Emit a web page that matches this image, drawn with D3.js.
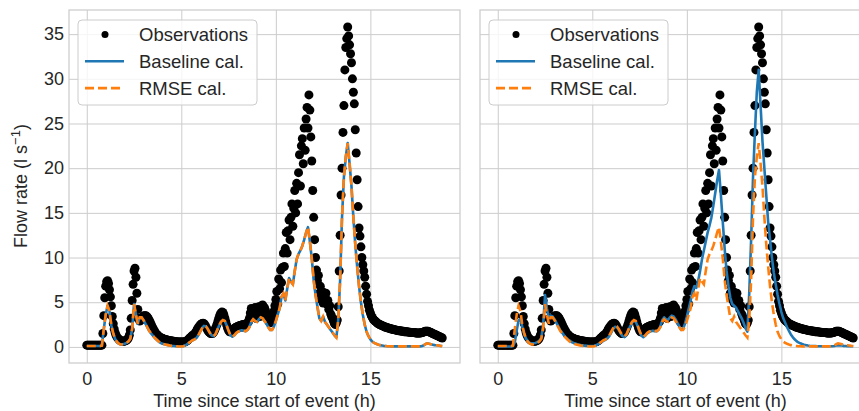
<!DOCTYPE html>
<html lang="en">
<head>
    <meta charset="UTF-8">
    <title>Flow rate: observations vs calibrations</title>
    <style>
        body { margin: 0; background: #fff; }
        svg { display: block; font-family: "Liberation Sans", Arial, sans-serif; }
        .tick text { fill: #262626; font-size: 18px; }
        .grid line { stroke: #cccccc; stroke-width: 1; }
        .label { fill: #262626; font-size: 18px; }
    </style>
</head>
<body>
    <script src="https://d3js.org/d3.v7.min.js"></script>
    <script>
        // observations every 0.05 h from t = 0 (one row per hour)
        const obsStep = 0.05;
        const obsFlow = [
            0.2,0.2,0.2,0.2,0.2,0.2,0.2,0.2,0.2,0.2,0.2,0.2,0.2,0.2,0.2,0.2,0.2,1.5,3.5,5.5,
            6.8,7.3,7.4,7.1,6.4,5.6,4.6,3.4,2.6,2.0,1.6,1.3,1.1,0.95,0.85,0.75,0.7,0.65,0.62,0.62,
            0.65,0.7,0.75,0.85,1.0,1.3,1.9,3.2,5.2,7.0,8.5,8.8,7.8,6.0,4.2,3.2,2.9,3.0,3.2,3.35,
            3.45,3.5,3.5,3.45,3.35,3.2,3.0,2.8,2.55,2.3,2.1,1.9,1.7,1.55,1.4,1.3,1.2,1.1,1.05,1.0,
            0.95,0.9,0.87,0.84,0.8,0.78,0.75,0.72,0.7,0.68,0.66,0.64,0.62,0.6,0.58,0.57,0.56,0.55,0.55,0.54,
            0.54,0.54,0.55,0.56,0.58,0.62,0.68,0.78,0.9,1.0,1.1,1.2,1.3,1.35,1.45,1.6,1.8,2.0,2.15,2.3,
            2.45,2.55,2.62,2.65,2.6,2.45,2.25,2.05,1.85,1.7,1.6,1.5,1.5,1.5,1.6,1.8,2.05,2.3,2.6,2.95,
            3.3,3.6,3.8,3.9,3.85,3.6,3.25,2.85,2.45,2.1,1.85,1.7,1.7,1.75,1.85,1.95,2.05,2.15,2.2,2.25,
            2.3,2.35,2.4,2.4,2.45,2.5,2.45,2.4,2.5,2.6,2.7,2.8,3.2,3.8,4.3,3.3,3.7,4.2,4.4,3.2,
            3.8,4.3,4.5,3.4,4.4,4.6,4.7,3.8,4.4,4.1,3.7,3.3,3.0,2.8,2.7,2.8,3.1,3.5,4.0,4.6,
            5.3,6.2,4.8,7.6,6.5,8.6,7.2,8.9,10.5,9.0,11.0,12.8,10.5,13.0,14.2,12.0,14.5,16.0,13.5,15.5,
            17.5,15.0,18.3,16.0,19.5,21.5,18.0,22.5,23.3,20.5,24.5,22.0,25.5,26.8,24.5,28.2,26.5,23.5,20.8,17.5,
            14.5,12.0,10.0,8.6,7.4,8.0,6.0,6.8,5.3,6.2,4.9,5.8,5.6,6.0,4.8,5.2,4.2,4.6,3.7,3.4,
            3.2,2.9,2.6,2.5,2.7,3.0,4.5,8.5,12.5,17.0,20.0,24.0,27.0,31.0,33.5,34.5,35.8,34.8,33.8,32.8,
            31.8,30.0,28.5,27.2,24.3,21.7,18.7,15.7,13.3,12.4,11.2,10.0,9.2,8.5,7.8,6.8,5.9,5.1,4.6,4.1,
            3.8,3.5,3.3,3.1,3.0,2.9,2.8,2.7,2.6,2.55,2.5,2.45,2.4,2.35,2.3,2.25,2.2,2.2,2.15,2.1,
            2.1,2.05,2.0,2.0,1.95,1.95,1.9,1.9,1.85,1.85,1.8,1.8,1.8,1.75,1.75,1.75,1.7,1.7,1.7,1.7,
            1.65,1.65,1.65,1.6,1.6,1.6,1.6,1.6,1.55,1.55,1.55,1.55,1.55,1.55,1.6,1.6,1.65,1.7,1.75,1.75,
            1.75,1.75,1.7,1.65,1.6,1.55,1.5,1.45,1.4,1.35,1.3,1.25,1.2,1.15,1.1,1.05,1.0
        ];

        // simulations every 0.1 h from t = 0
        const simStep = 0.1;
        // RMSE calibration (left panel: baseline == RMSE)
        const simRmse = [
            0.1,0.1,0.1,0.1,0.1,0.1,0.1,0.1,0.15,2.0,
            3.6,4.6,4.0,2.4,1.5,0.9,0.55,0.35,0.25,0.3,
            0.35,0.45,0.6,0.9,2.0,4.8,3.6,2.6,3.3,3.3,
            3.0,2.6,2.2,1.8,1.5,1.25,1.0,0.8,0.6,0.45,
            0.35,0.3,0.25,0.2,0.15,0.12,0.1,0.08,0.06,0.05,
            0.05,0.08,0.15,0.3,0.45,0.6,0.75,0.85,1.0,1.3,
            1.7,2.1,2.35,2.3,2.0,1.6,1.3,1.2,1.4,1.9,
            2.4,2.8,3.0,2.9,2.4,1.8,1.3,1.15,1.3,1.55,
            1.7,1.8,1.85,1.8,1.75,1.9,2.2,2.8,3.1,2.9,
            2.8,3.1,3.3,3.2,2.9,2.6,2.2,1.9,1.9,2.3,
            2.9,3.6,4.3,5.6,6.0,5.2,6.5,7.7,7.3,7.0,
            8.5,9.8,10.4,10.8,11.3,12.0,12.8,13.4,11.8,9.9,
            7.5,5.8,4.5,3.2,2.9,3.4,2.8,2.5,2.2,1.9,
            1.6,1.3,1.05,3.0,7.5,14.5,19.0,21.3,22.8,20.5,
            18.0,14.5,11.5,9.0,6.8,5.0,3.6,2.5,1.7,1.2,
            0.85,0.6,0.45,0.35,0.27,0.2,0.16,0.12,0.1,0.08,
            0.07,0.06,0.06,0.06,0.06,0.06,0.06,0.06,0.06,0.06,
            0.06,0.06,0.06,0.06,0.06,0.06,0.06,0.08,0.15,0.3,
            0.4,0.35,0.3,0.25,0.2,0.18,0.15,0.12,0.1
        ];
        // baseline calibration, right panel
        const simBaseline = [
            0.05,0.05,0.05,0.05,0.05,0.05,0.05,0.05,0.08,0.5,
            1.8,3.0,3.1,2.2,1.4,0.9,0.6,0.45,0.4,0.4,
            0.45,0.55,0.7,1.0,2.5,5.8,4.3,3.2,3.5,3.4,
            3.1,2.7,2.3,1.9,1.6,1.3,1.05,0.85,0.7,0.55,
            0.45,0.38,0.3,0.25,0.2,0.17,0.14,0.12,0.1,0.1,
            0.1,0.12,0.18,0.3,0.42,0.55,0.7,0.8,0.95,1.2,
            1.6,2.0,2.25,2.2,1.9,1.5,1.2,1.1,1.3,1.8,
            2.3,2.7,2.9,2.8,2.3,1.7,1.25,1.1,1.25,1.5,
            1.65,1.75,1.8,1.75,1.75,1.9,2.3,3.0,3.3,3.1,
            3.0,3.3,3.5,3.4,3.1,2.7,2.3,1.9,2.0,2.6,
            3.4,4.3,5.2,6.2,6.8,6.6,7.4,8.5,9.8,10.8,
            11.8,12.8,13.6,14.5,15.8,17.2,18.6,19.8,17.0,14.0,
            11.0,8.5,6.8,5.5,4.8,4.6,4.4,4.0,3.6,3.2,
            2.7,2.1,1.7,6.0,12.0,19.0,24.0,28.5,31.0,27.0,
            23.0,20.0,17.0,14.0,12.0,10.0,8.3,7.0,5.8,4.8,
            3.9,3.2,2.7,2.2,1.8,1.4,1.1,0.85,0.65,0.5,
            0.4,0.32,0.25,0.2,0.16,0.13,0.11,0.1,0.09,0.08,
            0.08,0.08,0.08,0.08,0.08,0.08,0.08,0.08,0.1,0.15,
            0.18,0.17,0.15,0.12,0.1,0.08,0.07,0.07,0.07
        ];

        const xTicks = [0, 5, 10, 15];
        const yTicks = [0, 5, 10, 15, 20, 25, 30, 35];
        const legendLabels = ["Observations", "Baseline cal.", "RMSE cal."];

        const blue = "#1f77b4", orange = "#ff7f0e", ink = "#262626";
        const width = 859, height = 411;
        const plotTop = 10, plotBottom = 363;
        const lineW = 2.6, dash = "9,4";

        const obs = obsFlow.map((v, i) => ({ t: i * obsStep, v: v }));
        const rmse = simRmse.map((v, i) => ({ t: i * simStep, v: v }));
        const base = simBaseline.map((v, i) => ({ t: i * simStep, v: v }));

        const panels = [
            { left: 69, right: 460, baseline: rmse, rmse: rmse, yLabels: true },
            { left: 480, right: 871, baseline: base, rmse: rmse, yLabels: false }
        ];

        const svg = d3.select("body").append("svg")
            .attr("width", width)
            .attr("height", height);

        const y = d3.scaleLinear().domain([-1.8, 37.7]).range([plotBottom, plotTop]);

        panels.forEach(p => {
            const x = d3.scaleLinear().domain([-0.94, 19.74]).range([p.left, p.right]);
            const g = svg.append("g");

            // grid + tick labels
            g.append("g")
                .attr("class", "grid")
                .attr("transform", `translate(0,${plotBottom})`)
                .call(d3.axisBottom(x).tickValues(xTicks).tickSize(-(plotBottom - plotTop)).tickPadding(9))
                .call(a => a.select(".domain").remove());

            g.append("g")
                .attr("class", "grid")
                .attr("transform", `translate(${p.left},0)`)
                .call(d3.axisLeft(y).tickValues(yTicks).tickSize(-(p.right - p.left)).tickPadding(5)
                    .tickFormat(p.yLabels ? d3.format("d") : () => ""))
                .call(a => a.select(".domain").remove());

            // spines
            g.append("rect")
                .attr("x", p.left).attr("y", plotTop)
                .attr("width", p.right - p.left).attr("height", plotBottom - plotTop)
                .attr("fill", "none")
                .attr("stroke", "#cccccc")
                .attr("stroke-width", 1.25);

            g.append("g").selectAll("circle")
                .data(obs)
                .enter()
                .append("circle")
                .attr("cx", d => x(d.t))
                .attr("cy", d => y(d.v))
                .attr("r", 4.5)
                .attr("fill", "#000");

            const line = d3.line().x(d => x(d.t)).y(d => y(d.v));

            g.append("path")
                .datum(p.baseline)
                .attr("d", line)
                .attr("fill", "none")
                .attr("stroke", blue)
                .attr("stroke-width", lineW)
                .attr("stroke-linejoin", "round");

            g.append("path")
                .datum(p.rmse)
                .attr("d", line)
                .attr("fill", "none")
                .attr("stroke", orange)
                .attr("stroke-width", lineW)
                .attr("stroke-dasharray", dash);

            // x label
            svg.append("text")
                .attr("class", "label")
                .attr("x", (p.left + p.right) / 2)
                .attr("y", 407)
                .attr("text-anchor", "middle")
                .text("Time since start of event (h)");

            // legend
            const lg = svg.append("g").attr("transform", `translate(${p.left + 9},20)`);
            lg.append("rect")
                .attr("width", 179).attr("height", 85)
                .attr("rx", 4)
                .attr("fill", "#fff").attr("fill-opacity", 0.8)
                .attr("stroke", "#cccccc");
            const rows = lg.selectAll("g.row")
                .data(legendLabels)
                .enter()
                .append("g")
                .attr("class", "row")
                .attr("transform", (d, i) => `translate(0,${14.5 + i * 26.8})`);
            rows.append("text")
                .attr("x", 61)
                .attr("dy", "0.35em")
                .attr("fill", ink)
                .attr("font-size", 18.5)
                .text(d => d);
            rows.filter((d, i) => i === 0).append("circle")
                .attr("cx", 27).attr("r", 3.5).attr("fill", "#000");
            rows.filter((d, i) => i === 1).append("line")
                .attr("x1", 7).attr("x2", 46)
                .attr("stroke", blue).attr("stroke-width", lineW);
            rows.filter((d, i) => i === 2).append("line")
                .attr("x1", 7).attr("x2", 46)
                .attr("stroke", orange).attr("stroke-width", lineW)
                .attr("stroke-dasharray", dash);
        });

        // y label with superscript
        const yl = svg.append("text")
            .attr("class", "label")
            .attr("transform", "translate(27,186) rotate(-90)")
            .attr("text-anchor", "middle");
        yl.append("tspan").text("Flow rate (l s");
        yl.append("tspan").attr("font-size", 13).attr("dy", -7).text("\u22121");
        yl.append("tspan").attr("dy", 7).text(")");
    </script>
</body>
</html>
